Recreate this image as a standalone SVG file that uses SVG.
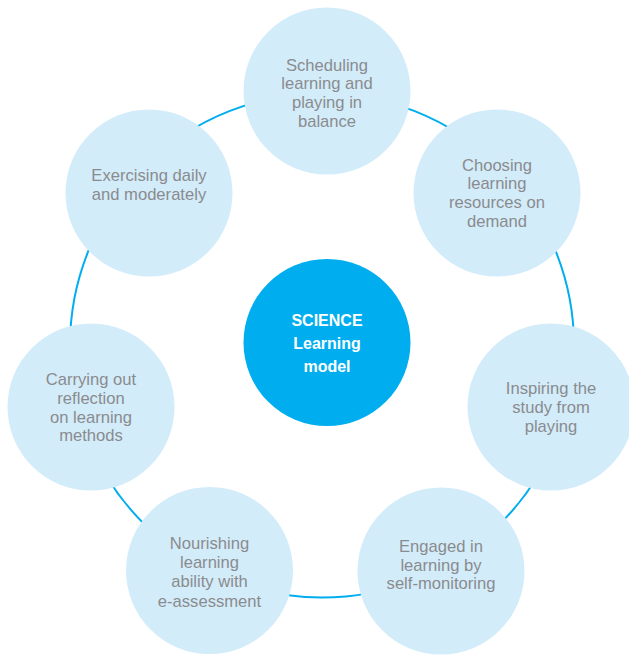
<svg xmlns="http://www.w3.org/2000/svg" width="629" height="655" viewBox="0 0 629 655">
<style>
.sat{fill:#d3ecfa}
.t{font-family:"Liberation Sans",Arial,sans-serif;font-size:16.6px;fill:#8a8b8e;text-anchor:middle}
.c{font-family:"Liberation Sans",Arial,sans-serif;font-size:16px;font-weight:bold;fill:#ffffff;text-anchor:middle}
</style>
<rect width="629" height="655" fill="#ffffff"/>
<g id="connectors">
<circle cx="322" cy="345.5" r="252" fill="none" stroke="#00aeef" stroke-width="2"/>
</g>
<g id="center">
<circle cx="327" cy="342.5" r="83.5" fill="#00aeef"/>
<text class="c" x="327" y="326">SCIENCE</text>
<text class="c" x="327" y="349.3">Learning</text>
<text class="c" x="327" y="372.3">model</text>
</g>
<g id="scheduling">
<circle class="sat" cx="327" cy="91" r="83.5"/>
<text class="t" x="327" y="70.7">Scheduling</text>
<text class="t" x="327" y="89.3">learning and</text>
<text class="t" x="327" y="108">playing in</text>
<text class="t" x="327" y="126.7">balance</text>
</g>
<g id="choosing">
<circle class="sat" cx="497" cy="193" r="83.5"/>
<text class="t" x="497" y="170.7">Choosing</text>
<text class="t" x="497" y="189.3">learning</text>
<text class="t" x="497" y="208.3">resources on</text>
<text class="t" x="497" y="227.3">demand</text>
</g>
<g id="inspiring">
<circle class="sat" cx="551" cy="407" r="83.5"/>
<text class="t" x="551" y="394">Inspiring the</text>
<text class="t" x="551" y="412.7">study from</text>
<text class="t" x="551" y="431.5">playing</text>
</g>
<g id="engaged">
<circle class="sat" cx="441" cy="571" r="83.5"/>
<text class="t" x="441" y="551.7">Engaged in</text>
<text class="t" x="441" y="570.5">learning by</text>
<text class="t" x="441" y="589.3">self-monitoring</text>
</g>
<g id="nourishing">
<circle class="sat" cx="209.5" cy="570.5" r="83.5"/>
<text class="t" x="209.5" y="549.3">Nourishing</text>
<text class="t" x="209.5" y="568.3">learning</text>
<text class="t" x="209.5" y="587.3">ability with</text>
<text class="t" x="209.5" y="606.5">e-assessment</text>
</g>
<g id="carrying">
<circle class="sat" cx="91" cy="407" r="83.5"/>
<text class="t" x="91" y="385">Carrying out</text>
<text class="t" x="91" y="403.5">reflection</text>
<text class="t" x="91" y="422.5">on learning</text>
<text class="t" x="91" y="441">methods</text>
</g>
<g id="exercising">
<circle class="sat" cx="149" cy="193" r="83.5"/>
<text class="t" x="149" y="181">Exercising daily</text>
<text class="t" x="149" y="200">and moderately</text>
</g>
</svg>
